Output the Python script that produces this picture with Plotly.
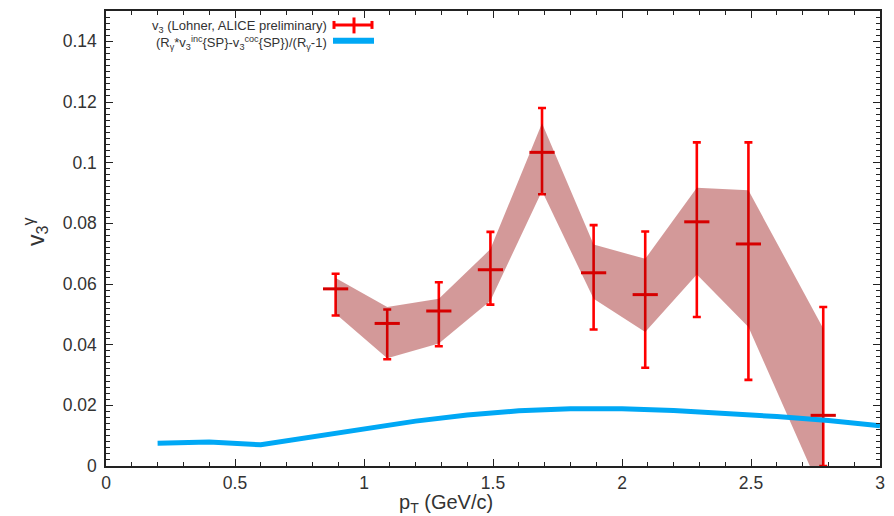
import plotly.graph_objects as go

# Photon v3 measurement (points with stat. errors, band = syst. uncertainty)
pt = [0.89, 1.09, 1.29, 1.49, 1.69, 1.89, 2.09, 2.29, 2.49, 2.78]
v3 = [0.0584, 0.0470, 0.0511, 0.0647, 0.1034, 0.0637, 0.0565, 0.0805, 0.0732, 0.0167]
err_hi = [0.0050, 0.0046, 0.0095, 0.0125, 0.0146, 0.0157, 0.0208, 0.0262, 0.0335, 0.0357]
err_lo = [0.0088, 0.0118, 0.0116, 0.0115, 0.0138, 0.0187, 0.0241, 0.0314, 0.0448, 0.0167]
syst_hi = [0.0620, 0.0524, 0.0551, 0.0715, 0.1130, 0.0730, 0.0683, 0.0917, 0.0909, 0.0453]
syst_lo = [0.0502, 0.0355, 0.0404, 0.0545, 0.0907, 0.0551, 0.0442, 0.0631, 0.0458, -0.0100]

# (R_gamma * v3_inc - v3_coc) / (R_gamma - 1) curve
curve_pt = [0.2, 0.4, 0.6, 0.8, 1.0, 1.2, 1.4, 1.6, 1.8, 2.0, 2.2, 2.4, 2.6, 2.8, 3.0]
curve_v3 = [0.0075, 0.0079, 0.0070, 0.0095, 0.0122, 0.0148, 0.0168, 0.0182, 0.0189,
            0.0189, 0.0183, 0.0175, 0.0163, 0.0150, 0.0133]

x_ticks = [0, 0.5, 1, 1.5, 2, 2.5, 3]
x_ticktext = ["0", "0.5", "1", "1.5", "2", "2.5", "3"]
y_ticks = [0, 0.02, 0.04, 0.06, 0.08, 0.10, 0.12, 0.14]
y_ticktext = ["0", "0.02", "0.04", "0.06", "0.08", "0.1", "0.12", "0.14"]

W, H = 894, 516
ML, MR, MT, MB = 106, 14, 9, 50
PW, PH = W - ML - MR, H - MT - MB


def px(x):
    return (x - ML) / PW


def py(y):
    return (H - MB - y) / PH


fig = go.Figure()

# statistical error bars
fig.add_trace(go.Scatter(
    x=pt, y=v3, mode="markers",
    marker=dict(size=1, color="rgba(0,0,0,0)"),
    error_y=dict(type="data", symmetric=False, array=err_hi, arrayminus=err_lo,
                 color="#ff0000", thickness=2.6, width=4),
    showlegend=False, hoverinfo="skip",
))

# systematic band
band_x = pt + pt[::-1]
band_y = syst_hi + syst_lo[::-1]
fig.add_trace(go.Scatter(
    x=band_x, y=band_y, mode="lines", fill="toself",
    fillcolor="rgba(146,0,0,0.4)", line=dict(width=0),
    showlegend=False, hoverinfo="skip",
))

# model curve
fig.add_trace(go.Scatter(
    x=curve_pt, y=curve_v3, mode="lines",
    line=dict(color="#00a8f5", width=5),
    showlegend=False,
))

# central values
fig.add_trace(go.Scatter(
    x=pt, y=v3, mode="markers",
    marker=dict(symbol="line-ew", size=18, line=dict(color="#d60000", width=3)),
    showlegend=False,
))

axis_common = dict(
    showline=True, linecolor="#222", linewidth=1.5, mirror="allticks",
    ticks="inside", ticklen=7, tickcolor="#222", tickwidth=1,
    showgrid=False, zeroline=False,
    tickfont=dict(family="Liberation Sans, Arial, sans-serif", size=17.5, color="#333"),
)

fig.update_xaxes(range=[0, 3], tickvals=x_ticks, ticktext=x_ticktext,
                 minor=dict(dtick=0.1, ticks="inside", ticklen=4, tickcolor="#222"),
                 ticklabelstandoff=0, **axis_common)
fig.update_yaxes(range=[0, 0.15], tickvals=y_ticks, ticktext=y_ticktext,
                 minor=dict(dtick=0.002, ticks="inside", ticklen=4, tickcolor="#222"),
                 ticklabelstandoff=4, **axis_common)

font_txt = dict(family="Liberation Sans, Arial, sans-serif", color="#333")

annotations = [
    dict(x=px(446), y=py(504), xref="paper", yref="paper",
         text="p<sub>T</sub> (GeV/c)", showarrow=False,
         font=dict(size=20, **font_txt), xanchor="center", yanchor="middle"),
    dict(x=px(35), y=py(231), xref="paper", yref="paper",
         text="v<sub>3</sub><sup>γ</sup>", showarrow=False, textangle=-90,
         font=dict(size=23, **font_txt), xanchor="center", yanchor="middle"),
    dict(x=px(329), y=py(25), xref="paper", yref="paper",
         text="v<sub>3</sub> (Lohner, ALICE preliminary)", showarrow=False,
         font=dict(size=13, **font_txt), xanchor="right", yanchor="middle"),
    dict(x=px(329), y=py(41), xref="paper", yref="paper",
         text="(R<sub>γ</sub>*v<sub>3</sub><sup>inc</sup>{SP}-v<sub>3</sub><sup>coc</sup>{SP})/(R<sub>γ</sub>-1)",
         showarrow=False,
         font=dict(size=13, **font_txt), xanchor="right", yanchor="middle"),
]

red = dict(color="#ff0000", width=3)
shapes = [
    dict(type="line", xref="paper", yref="paper", x0=px(334), x1=px(372), y0=py(23), y1=py(23), line=red),
    dict(type="line", xref="paper", yref="paper", x0=px(334), x1=px(334), y0=py(19), y1=py(27), line=red),
    dict(type="line", xref="paper", yref="paper", x0=px(372), x1=px(372), y0=py(19), y1=py(27), line=red),
    dict(type="line", xref="paper", yref="paper", x0=px(354), x1=px(354), y0=py(15.5), y1=py(31.5), line=red),
    dict(type="line", xref="paper", yref="paper", x0=px(333), x1=px(374), y0=py(39), y1=py(39),
         line=dict(color="#00a8f5", width=6)),
]

fig.update_layout(
    width=W, height=H,
    margin=dict(l=ML, r=MR, t=MT, b=MB),
    paper_bgcolor="white", plot_bgcolor="white",
    showlegend=False,
    annotations=annotations, shapes=shapes,
)

fig.write_html("out.html")
